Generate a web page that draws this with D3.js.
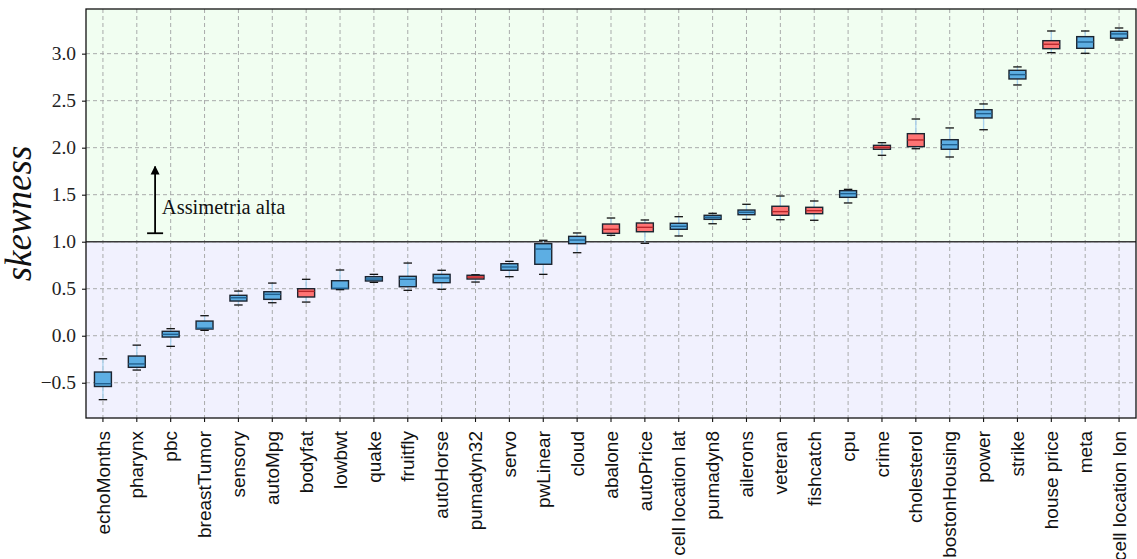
<!DOCTYPE html>
<html>
<head>
<meta charset="utf-8">
<script src="https://cdn.jsdelivr.net/npm/d3@7/dist/d3.min.js"></script>
<style>
  html, body { margin: 0; padding: 0; background: #fff; }
  svg { display: block; }
</style>
</head>
<body>
<svg id="chart" width="1137" height="559"></svg>
<script>
// Datasets, ordered by median skewness
const datasets = ["echoMonths","pharynx","pbc","breastTumor","sensory","autoMpg","bodyfat","lowbwt","quake","fruitfly",
  "autoHorse","pumadyn32","servo","pwLinear","cloud","abalone","autoPrice","cell location lat","pumadyn8","ailerons",
  "veteran","fishcatch","cpu","crime","cholesterol","bostonHousing","power","strike","house price","meta","cell location lon"];

// Box-plot statistics of the skewness for each dataset
const whiskerLow = [-0.68,-0.365,-0.113,0.057,0.327,0.351,0.358,0.49,0.568,0.483,
  0.494,0.571,0.628,0.653,0.883,1.068,0.983,1.061,1.191,1.238,
  1.234,1.228,1.412,1.919,1.989,1.901,2.191,2.667,3.011,3.004,3.146];
const q1 = [-0.54,-0.336,-0.014,0.071,0.369,0.387,0.412,0.50,0.582,0.521,
  0.564,0.603,0.696,0.76,0.979,1.089,1.106,1.132,1.238,1.287,
  1.281,1.298,1.472,1.983,2.011,1.983,2.316,2.731,3.053,3.057,3.164];
const medians = [-0.51,-0.30,0.015,0.08,0.404,0.44,0.472,0.505,0.603,0.60,
  0.614,0.624,0.731,0.922,1.018,1.132,1.153,1.164,1.26,1.313,
  1.32,1.33,1.511,2.004,2.082,2.032,2.362,2.777,3.10,3.124,3.21];
const q3 = [-0.386,-0.216,0.047,0.156,0.43,0.468,0.50,0.585,0.628,0.632,
  0.653,0.643,0.766,0.979,1.057,1.188,1.199,1.196,1.281,1.337,
  1.377,1.366,1.543,2.025,2.149,2.085,2.404,2.823,3.138,3.181,3.238];
const whiskerHigh = [-0.245,-0.10,0.075,0.213,0.475,0.56,0.60,0.699,0.653,0.773,
  0.696,0.649,0.791,1.015,1.093,1.252,1.231,1.266,1.302,1.398,
  1.486,1.433,1.557,2.053,2.305,2.21,2.465,2.859,3.241,3.241,3.273];
// Datasets highlighted in red
const highlighted = ["bodyfat","pumadyn32","abalone","autoPrice","veteran","fishcatch","crime","cholesterol","house price"];

const yTicks = [-0.5, 0.0, 0.5, 1.0, 1.5, 2.0, 2.5, 3.0];
const yDomain = [-0.875, 3.475];
const threshold = 1.0;
const annotation = { label: "Assimetria alta", pos: 2.54, from: 1.09, to: 1.80, textPos: 2.74, textY: 1.295 };

const rows = datasets.map((name, i) => ({
  name, lo: whiskerLow[i], q1: q1[i], med: medians[i], q3: q3[i], hi: whiskerHigh[i],
  red: highlighted.includes(name)
}));

const margin = { left: 86, right: 1, top: 9, bottom: 141 };
const W = 1137, H = 559;
const x0 = margin.left, x1 = W - margin.right, y0 = margin.top, y1 = H - margin.bottom;

const svg = d3.select("#chart");
const x = d3.scaleBand().domain(datasets).range([x0, x1]).paddingInner(0).paddingOuter(0);
const xPos = d3.scaleLinear().domain([0.5, datasets.length + 0.5]).range([x0, x1]);
const y = d3.scaleLinear().domain(yDomain).range([y1, y0]);
const bw = x.bandwidth();
const cx = d => x(d) + bw / 2;

// Shaded regions below and above the threshold
svg.append("rect").attr("x", x0).attr("y", y(threshold)).attr("width", x1 - x0)
  .attr("height", y1 - y(threshold)).attr("fill", "#f1f1fe");
svg.append("rect").attr("x", x0).attr("y", y0).attr("width", x1 - x0)
  .attr("height", y(threshold) - y0).attr("fill", "#f1fef1");

// Grid
const grid = svg.append("g").attr("stroke", "#a9abab").attr("stroke-width", 1)
  .attr("stroke-dasharray", "4,3");
yTicks.forEach(t => grid.append("line").attr("x1", x0).attr("x2", x1)
  .attr("y1", y(t)).attr("y2", y(t)));
datasets.forEach(d => grid.append("line").attr("x1", cx(d)).attr("x2", cx(d))
  .attr("y1", y0).attr("y2", y1));

// Threshold line
svg.append("line").attr("x1", x0).attr("x2", x1).attr("y1", y(threshold)).attr("y2", y(threshold))
  .attr("stroke", "#3a3a3a").attr("stroke-width", 1.6);

// Box plots
const boxW = bw * 0.5, capW = bw * 0.25;
const g = svg.append("g").selectAll("g").data(rows).join("g");
g.append("line").attr("x1", d => cx(d.name)).attr("x2", d => cx(d.name))
  .attr("y1", d => y(d.hi)).attr("y2", d => y(d.q3)).attr("stroke", "#a9d2ee").attr("stroke-width", 1.3);
g.append("line").attr("x1", d => cx(d.name)).attr("x2", d => cx(d.name))
  .attr("y1", d => y(d.q1)).attr("y2", d => y(d.lo)).attr("stroke", "#a9d2ee").attr("stroke-width", 1.3);
g.append("line").attr("x1", d => cx(d.name) - capW / 2).attr("x2", d => cx(d.name) + capW / 2)
  .attr("y1", d => y(d.hi)).attr("y2", d => y(d.hi)).attr("stroke", "#111").attr("stroke-width", 1.3);
g.append("line").attr("x1", d => cx(d.name) - capW / 2).attr("x2", d => cx(d.name) + capW / 2)
  .attr("y1", d => y(d.lo)).attr("y2", d => y(d.lo)).attr("stroke", "#111").attr("stroke-width", 1.3);
g.append("rect").attr("x", d => cx(d.name) - boxW / 2).attr("width", boxW)
  .attr("y", d => y(d.q3)).attr("height", d => y(d.q1) - y(d.q3))
  .attr("fill", d => d.red ? "#ff7474" : "#5daee3")
  .attr("stroke", "#1c2430").attr("stroke-width", 1.4);
g.append("line").attr("x1", d => cx(d.name) - boxW / 2).attr("x2", d => cx(d.name) + boxW / 2)
  .attr("y1", d => y(d.med)).attr("y2", d => y(d.med))
  .attr("stroke", d => d.red ? "#b8262b" : "#21608f").attr("stroke-width", 1.4);

// Frame
svg.append("rect").attr("x", x0).attr("y", y0).attr("width", x1 - x0).attr("height", y1 - y0)
  .attr("fill", "none").attr("stroke", "#111").attr("stroke-width", 1.3);

// Y axis
const yAxis = svg.append("g").attr("transform", `translate(${x0},0)`)
  .call(d3.axisLeft(y).tickValues(yTicks).tickSize(4).tickPadding(6)
    .tickFormat(t => (t < 0 ? "\u2212" : "") + Math.abs(t).toFixed(1)));
yAxis.select(".domain").remove();
yAxis.selectAll("line").attr("stroke", "#111").attr("stroke-width", 1.1);
yAxis.selectAll("text").attr("font-family", "'Liberation Serif', 'DejaVu Serif', serif")
  .attr("font-size", "19.5px").attr("fill", "#222");

// X axis
const xAxis = svg.append("g").attr("transform", `translate(0,${y1})`)
  .call(d3.axisBottom(x).tickSize(4).tickPadding(6));
xAxis.select(".domain").remove();
xAxis.selectAll("line").attr("stroke", "#111").attr("stroke-width", 1.1);
xAxis.selectAll("text")
  .attr("font-family", "'Liberation Sans', Arial, sans-serif").attr("font-size", "19px").attr("fill", "#111")
  .attr("transform", "rotate(-90)").attr("text-anchor", "end")
  .attr("x", -13).attr("y", 0).attr("dy", "0.35em");

// Y label
svg.append("text").attr("transform", `translate(31,${(y0 + y1) / 2}) rotate(-90)`)
  .attr("text-anchor", "middle").attr("font-family", "'Liberation Serif', 'DejaVu Serif', serif")
  .attr("font-style", "italic").attr("font-size", "37px").attr("fill", "#111").text("skewness");

// Annotation arrow
const ax = xPos(annotation.pos);
const defs = svg.append("defs");
defs.append("marker").attr("id", "arrowhead").attr("viewBox", "0 0 10 10").attr("refX", 9).attr("refY", 5)
  .attr("markerWidth", 5).attr("markerHeight", 6).attr("orient", "auto")
  .append("path").attr("d", "M0,0 L10,5 L0,10 z").attr("fill", "#000");
svg.append("line").attr("x1", ax).attr("x2", ax).attr("y1", y(annotation.from)).attr("y2", y(annotation.to))
  .attr("stroke", "#000").attr("stroke-width", 1.8).attr("marker-end", "url(#arrowhead)");
svg.append("line").attr("x1", ax - 8).attr("x2", ax + 8).attr("y1", y(annotation.from)).attr("y2", y(annotation.from))
  .attr("stroke", "#000").attr("stroke-width", 1.8);
svg.append("text").attr("x", xPos(annotation.textPos)).attr("y", y(annotation.textY))
  .attr("font-family", "'Liberation Serif', 'DejaVu Serif', serif").attr("font-size", "20.5px")
  .attr("fill", "#111").text(annotation.label);
</script>
</body>
</html>
